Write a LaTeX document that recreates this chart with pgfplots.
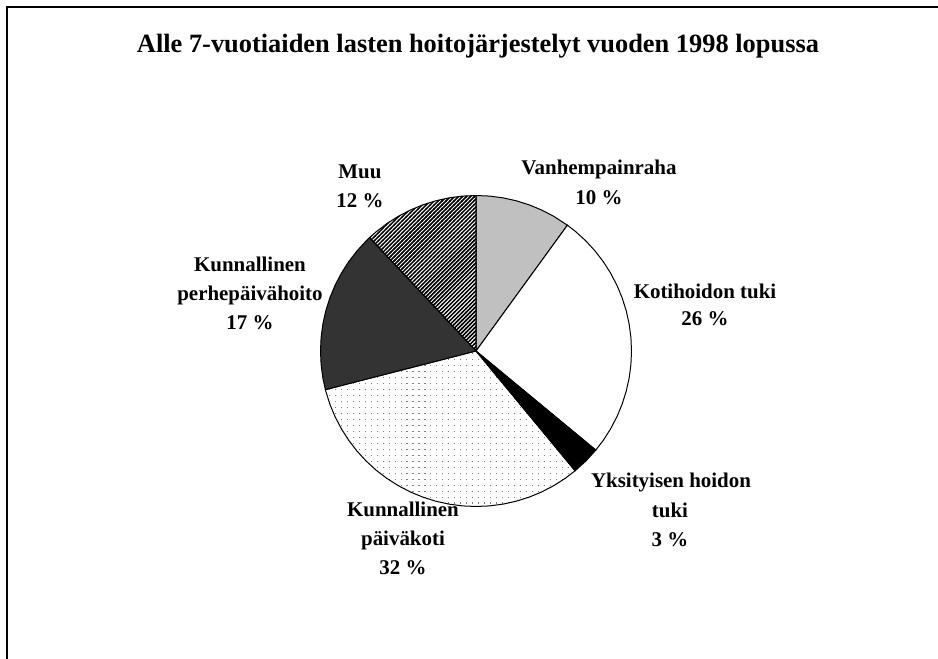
\documentclass[border=0pt]{standalone}
\usepackage{pgfplots}
\pgfplotsset{compat=1.18}
\usepgfplotslibrary{polar}
\usetikzlibrary{patterns}
\usepackage{fontspec}
\setmainfont{Liberation Serif}
\definecolor{lightg}{HTML}{C0C0C0}
\definecolor{darkg}{HTML}{333333}
\pgfdeclarepatternformonly{sparsedots}{\pgfqpoint{-1pt}{-1pt}}{\pgfqpoint{7pt}{7pt}}{\pgfqpoint{6pt}{6pt}}{%
  \pgfpathrectangle{\pgfqpoint{0pt}{0pt}}{\pgfqpoint{1.1pt}{1.1pt}}\pgfusepath{fill}}
\pgfdeclarepatternformonly{nelines}{\pgfqpoint{-1pt}{-1pt}}{\pgfqpoint{5pt}{5pt}}{\pgfqpoint{4pt}{4pt}}{%
  \pgfsetlinewidth{1.5pt}\pgfpathmoveto{\pgfqpoint{-0.5pt}{-0.5pt}}\pgfpathlineto{\pgfqpoint{4.5pt}{4.5pt}}\pgfusepath{stroke}}
\begin{document}
\begin{tikzpicture}[x=1bp,y=1bp]
\fill[white] (0,0) rectangle (938,659);
\useasboundingbox (0,0) rectangle (938,659);
\draw[line width=1.6pt] (7,0) -- (7,652) -- (938,652);
\node[font=\bfseries\fontsize{26.5}{30}\selectfont, anchor=base] at (478,606) {Alle 7-vuotiaiden lasten hoitojärjestelyt vuoden 1998 lopussa};
% Shares (%): Vanhempainraha 10, Kotihoidon tuki 26, Yksityisen hoidon tuki 3,
% Kunnallinen päiväkoti 32, Kunnallinen perhepäivähoito 17, Muu 12
% Wedges clockwise from 12 o'clock, 3.6 degrees per percent.
\begin{polaraxis}[hide axis, scale only axis, width=311bp, height=311bp,
  ymin=0, ymax=1, clip=false, at={(476bp,308bp)}, anchor=origin]
\addplot[draw=black, line width=1pt, fill=lightg] coordinates {(90,0) (90,1) (85,1) (80,1) (75,1) (70,1) (65,1) (60,1) (54,1) (54,0)};
\addplot[draw=black, line width=1pt, fill=white] coordinates {(54,0) (54,1) (50,1) (45,1) (40,1) (35,1) (30,1) (25,1) (20,1) (15,1) (10,1) (5,1) (0,1) (-5,1) (-10,1) (-15,1) (-20,1) (-25,1) (-30,1) (-35,1) (-39.6,1) (-39.6,0)};
\addplot[draw=black, line width=1pt, fill=black] coordinates {(-39.6,0) (-39.6,1) (-45,1) (-50.4,1) (-50.4,0)};
\addplot[draw=black, line width=1pt, pattern=sparsedots, pattern color=gray] coordinates {(-50.4,0) (-50.4,1) (-55,1) (-60,1) (-65,1) (-70,1) (-75,1) (-80,1) (-85,1) (-90,1) (-95,1) (-100,1) (-105,1) (-110,1) (-115,1) (-120,1) (-125,1) (-130,1) (-135,1) (-140,1) (-145,1) (-150,1) (-155,1) (-160,1) (-165,1) (-165.6,1) (-165.6,0)};
\addplot[draw=black, line width=1pt, fill=darkg] coordinates {(-165.6,0) (-165.6,1) (-170,1) (-175,1) (-180,1) (-185,1) (-190,1) (-195,1) (-200,1) (-205,1) (-210,1) (-215,1) (-220,1) (-225,1) (-226.8,1) (-226.8,0)};
\addplot[draw=black, line width=1pt, pattern=nelines, pattern color=black] coordinates {(-226.8,0) (-226.8,1) (-230,1) (-235,1) (-240,1) (-245,1) (-250,1) (-255,1) (-260,1) (-265,1) (-270,1) (-270,0)};
\end{polaraxis}
\tikzset{lab/.style={font=\bfseries\fontsize{21}{25}\selectfont, anchor=base}}
% baselines given as 659 - (pixel row)
\node[lab] at (599,484) {Vanhempainraha};
\node[lab] at (599,454) {10 \%};
\node[lab] at (705,360) {Kotihoidon tuki};
\node[lab] at (705,333) {26 \%};
\node[lab] at (671,171) {Yksityisen hoidon};
\node[lab] at (670,141) {tuki};
\node[lab] at (670,112) {3 \%};
\node[lab] at (403,142) {Kunnallinen};
\node[lab] at (403,113) {päiväkoti};
\node[lab] at (403,84) {32 \%};
\node[lab] at (250,387) {Kunnallinen};
\node[lab] at (250,358) {perhepäivähoito};
\node[lab] at (250,329) {17 \%};
\node[lab] at (360,480) {Muu};
\node[lab] at (360,451) {12 \%};
\end{tikzpicture}
\end{document}
